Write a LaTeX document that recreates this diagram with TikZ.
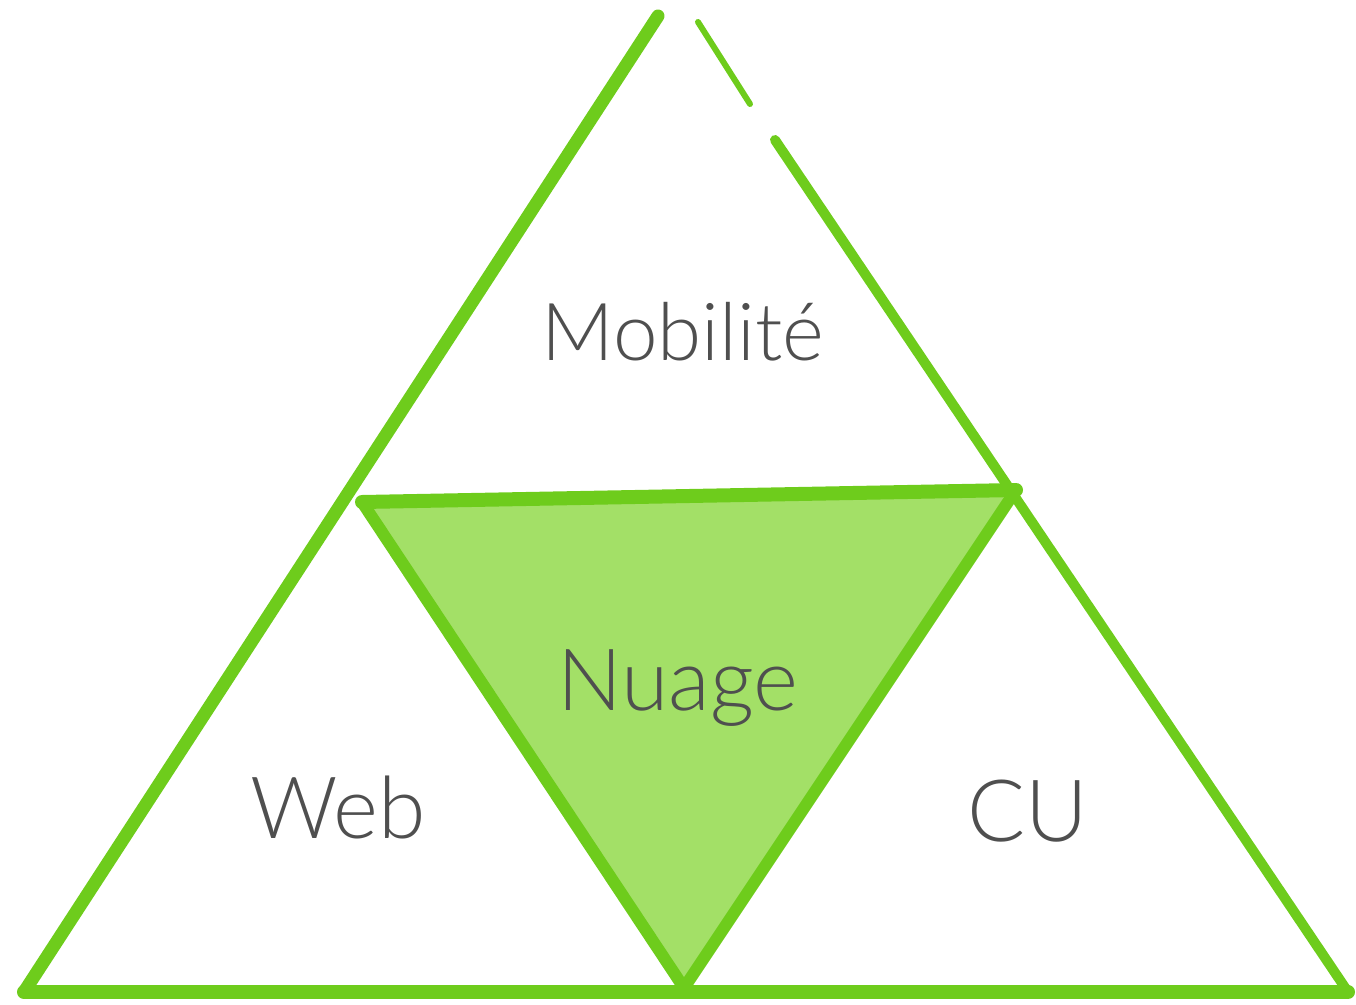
\documentclass[tikz,border=0pt]{standalone}
\usepackage{fontspec}
\setmainfont{Lato}[UprightFont=* Light]
\definecolor{gline}{HTML}{6ECC1C}
\definecolor{gfill}{HTML}{A3E067}
\definecolor{tgrey}{HTML}{4F4F4F}
\tikzset{
  edge/.style={draw=gline, line width=13pt, line cap=round, line join=round},
  thin edge/.style={draw=gline, line width=6pt, line cap=round},
  lbl/.style={text=tgrey, font=\fontsize{86}{100}\selectfont, inner sep=0pt, anchor=base},
}
\begin{document}
\begin{tikzpicture}[x=1pt,y=-1pt]
\useasboundingbox (0,0) rectangle (1356,1004);
% coordinates
\coordinate (apexL) at (658,16);
\coordinate (bl) at (24,992);
\coordinate (br) at (1348,992);
\coordinate (ml) at (362,502);
\coordinate (mr) at (1016,490);
\coordinate (bm) at (684,988);
\coordinate (r1) at (698,22);
\coordinate (r2) at (750,104);
\coordinate (r3) at (775,140);
% inner filled triangle
\fill[gfill] (ml) -- (mr) -- (bm) -- cycle;
% outer edges
\draw[edge] (apexL) -- (bl);
\draw[edge, line width=14pt] (bl) -- (br);
\draw[thin edge] (r1) -- (r2);
\draw[edge, line width=10pt] (r3) -- (br);
% inner triangle edges
\draw[edge, line width=14pt] (ml) -- (mr);
\draw[edge, line width=12pt] (ml) -- (bm);
\draw[edge, line width=12pt] (mr) -- (bm);
% labels
\node[lbl, font=\fontsize{80}{100}\selectfont] (mob) at (683,360) {Mobilité};
\node[lbl] (nua) at (678,710) {Nuage};
\node[lbl] (web) at (338,838) {Web};
\node[lbl] (cu) at (1028,841) {CU};
\end{tikzpicture}
\end{document}
